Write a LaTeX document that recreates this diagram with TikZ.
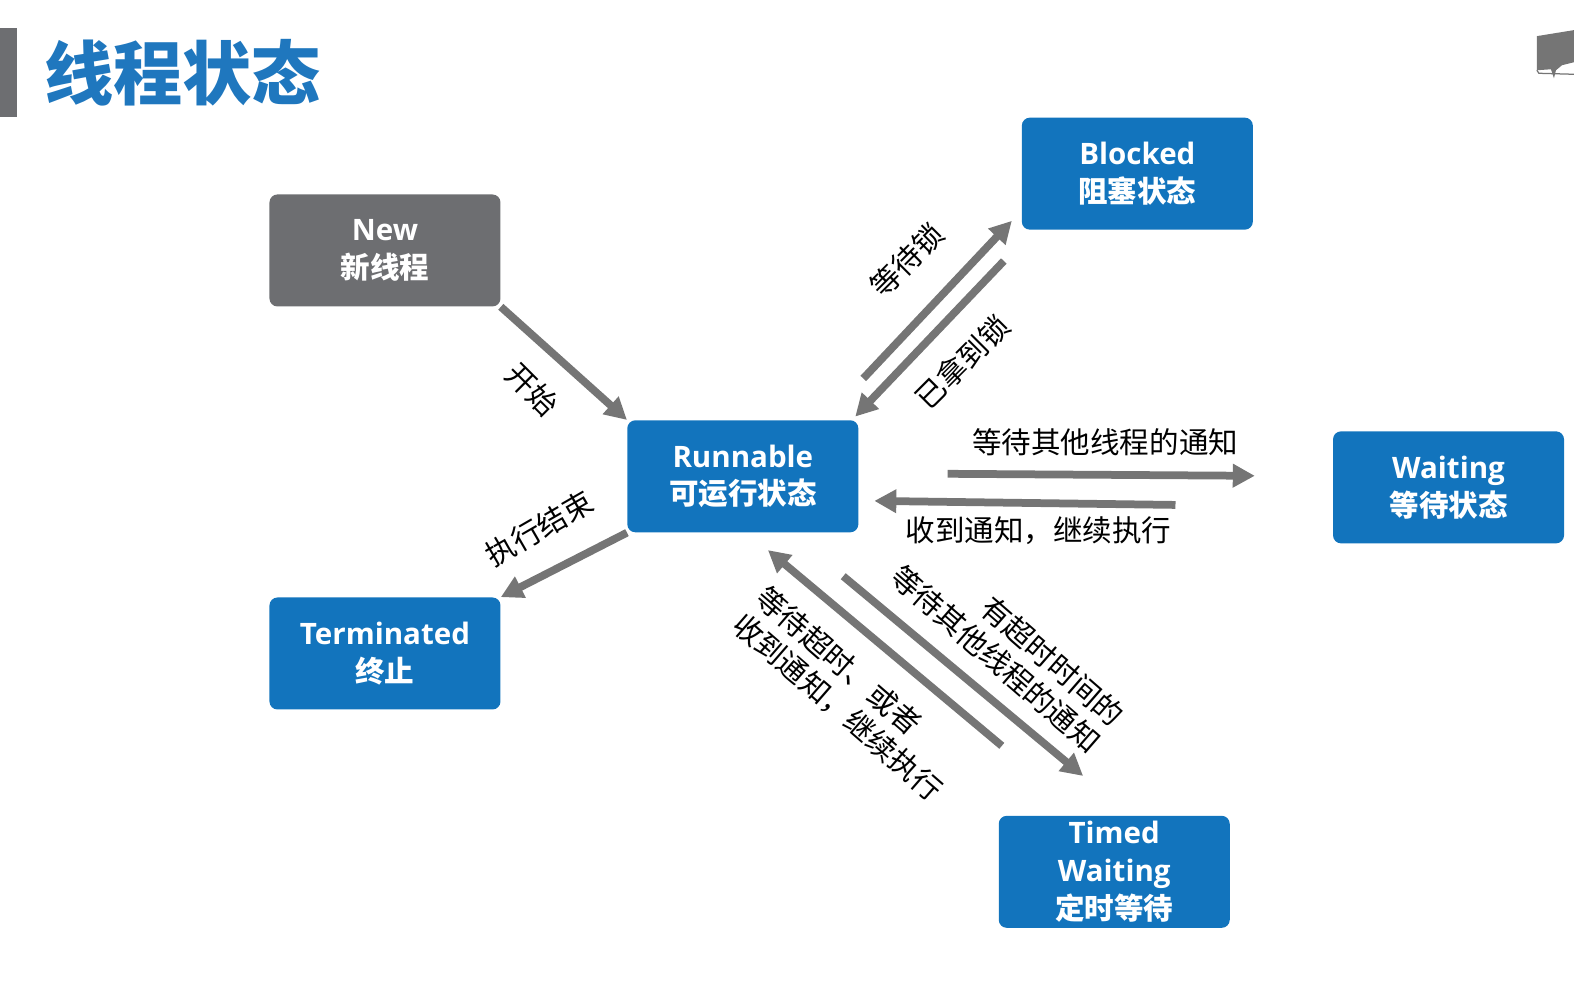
\documentclass[tikz,border=0pt]{standalone}
\usepackage{fontspec}
\setmainfont{Open Sans}
\newfontfamily\cjk{Noto Sans CJK SC}
\usetikzlibrary{arrows.meta}
\definecolor{stateblue}{HTML}{1274BD}
\definecolor{titleblue}{HTML}{1F77BE}
\definecolor{stategray}{HTML}{6D6E71}
\definecolor{arrowgray}{HTML}{757575}

\begin{document}
\begin{tikzpicture}
      [x=0.20076mm, y=-0.20076mm,
      state/.style={rectangle, rounded corners=1.6mm, fill=stateblue, text=white,
        minimum width=46.2mm, minimum height=22.4mm, inner sep=0pt, align=center,
        font=\fontsize{16.8}{21.5}\selectfont\bfseries},
      newstate/.style={state, fill=stategray},
      arr/.style={-{Triangle[length=4.4mm,width=4.5mm]}, line width=1.55mm, draw=arrowgray},
      lbl/.style={inner sep=0pt, font=\fontsize{16.8}{20.2}\selectfont\cjk}]
      \useasboundingbox (0,0) rectangle (1568,978.2);
      % title
      \fill[stategray] (0,28) rectangle (17,117);
      \node (title) at (182,72) [text=titleblue, font=\fontsize{39.4}{42}\selectfont\cjk\bfseries] {线程状态};
      % icon
      \fill[arrowgray] (1531,36) -- (1568,30) -- (1568,62) -- (1556,65) -- (1550,70)
        -- (1548,78) -- (1545,69) -- (1531,70) -- cycle;
      \draw[arrowgray, line width=0.25mm] (1531,70) -- (1533,73) -- (1568,74);
      % states
      \node (Blocked) at (1133,173) [state] {Blocked\\{\cjk 阻塞状态}};
      \node (Runnable) at (740,474.5) [state] {Runnable\\{\cjk 可运行状态}};
      \node (Waiting) at (1443,485.5) [state] {Waiting\\{\cjk 等待状态}};
      \node (Terminated) at (383.5,651) [state] {Terminated\\{\cjk 终止}};
      \node (Timed) at (1110,868.5) [state] {Timed\\Waiting\\{\cjk 定时等待}};
      \node (New) at (383.5,249.5) [newstate] {New\\{\cjk 新线程}};
      % free arrow ends
      \coordinate (lockA) at (860,377);
      \coordinate (lockB) at (1008,220);
      \coordinate (gotA) at (1000,260);
      \coordinate (gotB) at (852,415);
      \coordinate (waitA) at (944,472);
      \coordinate (waitB) at (1250,474);
      \coordinate (backA) at (1171,503);
      \coordinate (backB) at (871,499);
      \coordinate (timedA) at (840,574);
      \coordinate (timedB) at (1079,773);
      \coordinate (overA) at (998,743);
      \coordinate (overB) at (765,548);
      \draw[arr] (New.south east) -- (Runnable.north west);
      \draw[arr] (Runnable.south west) -- (Terminated.north east);
      \draw[arr] (lockA) -- (lockB);
      \draw[arr] (gotA) -- (gotB);
      \draw[arr] (waitA) -- (waitB);
      \draw[arr] (backA) -- (backB);
      \draw[arr] (timedA) -- (timedB);
      \draw[arr] (overA) -- (overB);
      % labels
      \node (start) at (530,388) [lbl, rotate=-45] {开始};
      \node (finish) at (537,526.5) [lbl, rotate=30] {执行结束};
      \node (lock) at (903.5,259) [lbl, rotate=45] {等待锁};
      \node (got) at (958.5,360.5) [lbl, rotate=45] {已拿到锁};
      \node (wait) at (1101,440.5) [lbl] {等待其他线程的通知};
      \node (back) at (1034.5,529) [lbl] {收到通知，继续执行};
      \node (timed) at (1003.5,643) [lbl, rotate=-41, align=right] {有超时时间的\\等待其他线程的通知};
      \node (over) at (846,691) [lbl, rotate=-41, align=left] {等待超时、或者\\收到通知，继续执行};
    \end{tikzpicture}
\end{document}
